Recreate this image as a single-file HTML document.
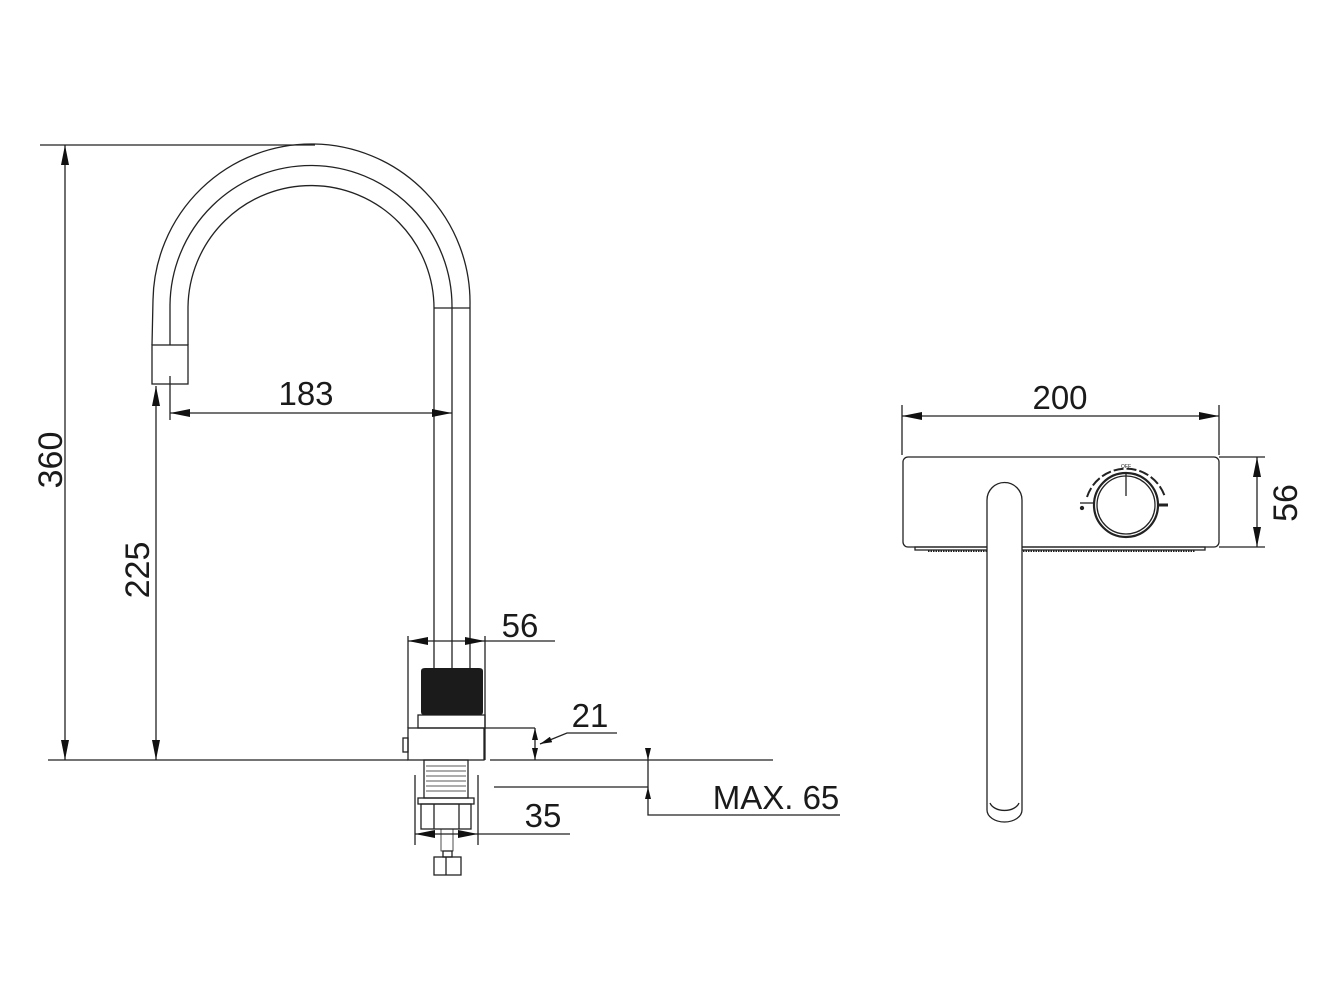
<!DOCTYPE html>
<html><head><meta charset="utf-8"><style>
html,body{margin:0;padding:0;background:#fff;}
svg{display:block;}
text{font-family:"Liberation Sans",sans-serif;fill:#1a1a1a;}
</style></head><body>
<svg width="1333" height="1000" viewBox="0 0 1333 1000" xmlns="http://www.w3.org/2000/svg">
<defs>
<marker id="a" viewBox="0 0 20 8" refX="20" refY="4" markerWidth="20" markerHeight="8" markerUnits="userSpaceOnUse" orient="auto-start-reverse"><path d="M0,0 L20,4 L0,8 Z" fill="#111"/></marker>
<marker id="s" viewBox="0 0 12 6" refX="12" refY="3" markerWidth="12" markerHeight="6" markerUnits="userSpaceOnUse" orient="auto-start-reverse"><path d="M0,0 L12,3 L0,6 Z" fill="#111"/></marker>
</defs>
<g fill="none" stroke="#222" stroke-width="1.3">
<!-- spout -->
<path d="M152,345 L153,300 A158,158 0 0 1 470,305 L470,668"/>
<path d="M170,345 L170,305 A141,141 0 0 1 452,308 L452,668"/>
<path d="M188,345 L188,307 A123,123 0 0 1 434,310 L434,668"/>
<line x1="434" y1="308" x2="470" y2="308"/>
<rect x="152" y="345" width="36" height="39"/>
<line x1="170" y1="376" x2="170" y2="420"/>
<!-- base -->
<rect x="418" y="715" width="67" height="13"/>
<rect x="408" y="728" width="76" height="32"/>
<rect x="403" y="738" width="5" height="14"/>
<line x1="408" y1="636" x2="408" y2="728"/>
<line x1="485" y1="636" x2="485" y2="760"/>
<!-- under -->
<rect x="424" y="760" width="44" height="38"/>
<path d="M426,766 H466 M426,771 H466 M426,776 H466 M426,781 H466 M426,786 H466 M426,791 H466" stroke-width="0.8"/>
<rect x="418" y="798" width="56" height="6"/>
<rect x="421" y="804" width="50" height="25"/>
<line x1="434" y1="804" x2="434" y2="829"/><line x1="459" y1="804" x2="459" y2="829"/>
<rect x="441" y="829" width="12" height="22" stroke-width="0.8"/>
<rect x="443" y="851" width="9" height="6"/>
<rect x="434" y="857" width="27" height="18"/>
<line x1="446" y1="857" x2="446" y2="875"/>
<!-- ground -->
<line x1="48" y1="760" x2="408" y2="760"/>
<line x1="490" y1="760" x2="773" y2="760"/>
<line x1="40" y1="145" x2="315" y2="145"/>
<!-- dims -->
<line x1="65" y1="145" x2="65" y2="760" marker-start="url(#a)" marker-end="url(#a)"/>
<line x1="156" y1="386" x2="156" y2="760" marker-start="url(#a)" marker-end="url(#a)"/>
<line x1="170" y1="413" x2="452" y2="413" marker-start="url(#a)" marker-end="url(#a)"/>
<line x1="408" y1="641" x2="434" y2="641" marker-start="url(#a)"/>
<line x1="434" y1="641" x2="470" y2="641"/>
<line x1="470" y1="641" x2="485" y2="641" marker-end="url(#a)"/>
<line x1="485" y1="641" x2="555" y2="641"/>
<line x1="485" y1="728" x2="535" y2="728"/>
<line x1="535" y1="728" x2="535" y2="760" marker-start="url(#s)" marker-end="url(#s)"/>
<polyline points="617,733 567,733 540,744" marker-end="url(#s)"/>
<line x1="648" y1="748" x2="648" y2="760" marker-end="url(#s)"/>
<line x1="648" y1="760" x2="648" y2="787"/>
<line x1="648" y1="800" x2="648" y2="787" marker-end="url(#s)"/>
<polyline points="648,800 648,815 840,815"/>
<line x1="494" y1="787" x2="648" y2="787"/>
<line x1="415" y1="775" x2="415" y2="845"/>
<line x1="478" y1="775" x2="478" y2="845"/>
<line x1="415" y1="834" x2="478" y2="834" marker-start="url(#a)" marker-end="url(#a)"/>
<line x1="478" y1="834" x2="570" y2="834"/>
<!-- right view -->
<line x1="902" y1="405" x2="902" y2="455"/>
<line x1="1219" y1="405" x2="1219" y2="455"/>
<line x1="902" y1="416" x2="1219" y2="416" marker-start="url(#a)" marker-end="url(#a)"/>
<rect x="903" y="457" width="316" height="90" rx="5"/>
<line x1="1219" y1="457" x2="1265" y2="457"/>
<line x1="1219" y1="547" x2="1265" y2="547"/>
<line x1="1257" y1="457" x2="1257" y2="547" marker-start="url(#a)" marker-end="url(#a)"/>
<rect x="915" y="547" width="290" height="3"/>
<line x1="928" y1="551" x2="1195" y2="551" stroke-width="2" stroke-dasharray="1.5 1"/>
<path d="M987,810 L987,500 A17.5,17.5 0 0 1 1022,500 L1022,810 A17.5,12 0 0 1 987,810 Z" fill="#fff"/>
<path d="M990,803 A15,10 0 0 0 1019,803"/>
<circle cx="1126" cy="505" r="32" stroke-width="2.2"/>
<circle cx="1126" cy="505" r="29"/>
<line x1="1126" y1="474" x2="1126" y2="496"/>
<path d="M1087,497 A41,41 0 0 1 1165,497" stroke-dasharray="10 3" stroke-width="2"/>
<line x1="1080" y1="503" x2="1093" y2="503"/>
<line x1="1158" y1="505" x2="1168" y2="505" stroke-width="3"/>
<circle cx="1082" cy="508" r="1.5" fill="#222"/>
</g>
<path d="M421,671 Q421,668 425,668 L479,668 Q483,668 483,671 L483,712 Q483,715 479,715 L425,715 Q421,715 421,712 Z" fill="#1b1b1b"/>
<text x="1126" y="468" font-size="5" text-anchor="middle">OFF</text>
<text x="306" y="405" font-size="33" text-anchor="middle">183</text>
<text x="520" y="637" font-size="33" text-anchor="middle">56</text>
<text x="590" y="727" font-size="33" text-anchor="middle">21</text>
<text x="543" y="827" font-size="33" text-anchor="middle">35</text>
<text x="776" y="809" font-size="33" text-anchor="middle">MAX. 65</text>
<text x="1060" y="409" font-size="33" text-anchor="middle">200</text>
<text transform="translate(62,460) rotate(-90)" font-size="34" text-anchor="middle">360</text>
<text transform="translate(149,570) rotate(-90)" font-size="34" text-anchor="middle">225</text>
<text transform="translate(1297,503) rotate(-90)" font-size="34" text-anchor="middle">56</text>
</svg>
</body></html>
